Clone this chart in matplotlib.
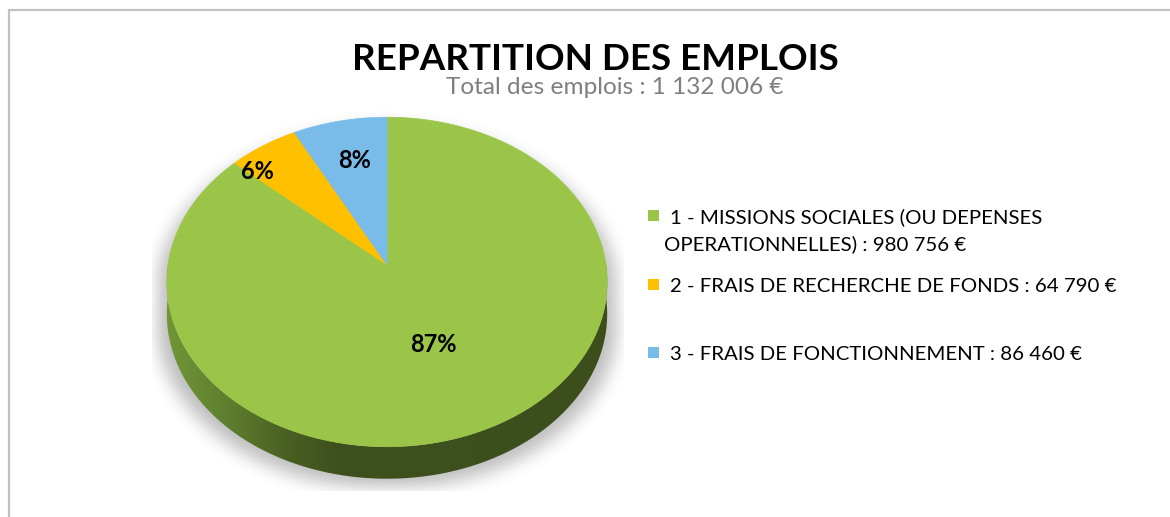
import numpy as np
import matplotlib
matplotlib.use("Agg")
import matplotlib.pyplot as plt
from matplotlib.patches import Polygon
from matplotlib.path import Path

# données
categories = ["1 - MISSIONS SOCIALES (OU DEPENSES OPERATIONNELLES)",
              "2 - FRAIS DE RECHERCHE DE FONDS",
              "3 - FRAIS DE FONCTIONNEMENT"]
valeurs = [980756, 64790, 86460]
couleurs = ["#9bc549", "#ffc000", "#79bbe9"]
titre = "REPARTITION DES EMPLOIS"
total = sum(valeurs)
sous_titre = "Total des emplois : " + f"{total:,}".replace(",", " ") + " €"

FONT = ["Lato", "DejaVu Sans"]

# géométrie du camembert 3D (pixels)
CX, CY = 387, 265
RX, RY = 219, 163
K = 0.103       # perspective
DEPTH = 32


def proj(theta, drop=0.0):
    u = np.cos(theta)
    v = -np.sin(theta)
    s = 1.0 / (1.0 - K * v)
    return CX + RX * u * s, CY + RY * v * s + drop


def fmt(v):
    return f"{v:,}".replace(",", " ") + " €"


fig = plt.figure(figsize=(11.7, 5.17), dpi=100)
ax = fig.add_axes([0, 0, 1, 1])
ax.set_xlim(0, 1170)
ax.set_ylim(517, 0)
ax.axis("off")

# cadre
ax.plot([8, 1170], [9.5, 9.5], color="#c0c0c0", lw=1.6, solid_capstyle="butt")
ax.plot([8.5, 8.5], [9, 517], color="#c0c0c0", lw=1.6, solid_capstyle="butt")

# contour du solide (arc arrière en haut + arc avant en bas)
t_back = np.linspace(0, np.pi, 200)
t_front = np.linspace(np.pi, 2 * np.pi, 200)
bx, by = proj(t_back)
fx, fy = proj(t_front, DEPTH)
outline = np.column_stack([np.r_[bx, fx], np.r_[by, fy]])

# ombre floue
x0, x1, y0, y1 = 152, 624, 105, 491
gx, gy = np.meshgrid(np.arange(x0, x1) + 0.5, np.arange(y0, y1) + 0.5)
sh = outline.copy()
sh[:, 0] = CX + (sh[:, 0] - CX) * 1.045
sh[:, 1] = sh[:, 1] + 10
mask = Path(sh).contains_points(np.column_stack([gx.ravel(), gy.ravel()]))
mask = mask.reshape(gx.shape).astype(float)
k = np.ones(17) / 17.0
for _ in range(3):
    mask = np.apply_along_axis(lambda m: np.convolve(m, k, mode="same"), 0, mask)
    mask = np.apply_along_axis(lambda m: np.convolve(m, k, mode="same"), 1, mask)
img = np.zeros(gx.shape + (4,))
img[..., 3] = 0.26 * mask
ax.imshow(img, extent=(x0, x1, y1, y0), interpolation="bilinear", zorder=1)

# paroi latérale (dégradé)
tx, ty = proj(t_front)
wall = np.column_stack([np.r_[tx, fx[::-1]], np.r_[ty, fy[::-1]]])
wall_patch = Polygon(wall, closed=True, facecolor="none", edgecolor="none")
ax.add_patch(wall_patch)
wx0, wx1 = int(tx.min()) - 2, int(tx.max()) + 2
wy0, wy1 = int(CY) - 5, int(fy.max()) + 2
xs = np.arange(wx0, wx1) + 0.5
stops_x = [168, 230, 290, 340, 610]
stops_c = np.array([[112, 150, 56], [94, 126, 45], [72, 94, 34],
                    [62, 80, 29], [60, 78, 28]]) / 255.0
grad = np.stack([np.interp(xs, stops_x, stops_c[:, c]) for c in range(3)], axis=-1)
grad = np.repeat(grad[None, :, :], wy1 - wy0, axis=0)
im = ax.imshow(grad, extent=(wx0, wx1, wy1, wy0), interpolation="bilinear", zorder=2)
im.set_clip_path(wall_patch)

# face supérieure
fracs = np.array(valeurs) / total
cum = np.r_[0, np.cumsum(fracs)]
for i, c in enumerate(couleurs):
    a0 = np.pi / 2 - 2 * np.pi * cum[i]
    a1 = np.pi / 2 - 2 * np.pi * cum[i + 1]
    t = np.linspace(a0, a1, 300)
    px, py = proj(t)
    poly = np.column_stack([np.r_[CX, px], np.r_[CY, py]])
    ax.add_patch(Polygon(poly, closed=True, facecolor=c, edgecolor=c, lw=0.5, zorder=3))

# étiquettes de pourcentage
pct_pos = [(433, 352), (257, 179), (355, 168)]
for f, (x, y) in zip(fracs, pct_pos):
    ax.text(x, y, f"{round(f * 100)}%", ha="center", va="baseline",
            fontsize=17, fontweight="bold", family=FONT, color="black", zorder=4)

renderer = fig.canvas.get_renderer()


def fit(t, width):
    w = t.get_window_extent(renderer).width
    t.set_fontsize(t.get_fontsize() * width / w)


# titres
t1 = ax.text(595, 70, titre, ha="center", va="baseline", fontsize=28,
             fontweight="bold", family=FONT, color="black")
fit(t1, 486)
t2 = ax.text(615, 93.5, sous_titre, ha="center", va="baseline", fontsize=15,
             family=FONT, color="#7f7f7f")
fit(t2, 338)

# légende
leg_y = [215.5, 284.5, 352.5]
lignes = [(categories[0].replace(" OPERATIONNELLES)", ""), 670, 223),
          ("OPERATIONNELLES) : " + fmt(valeurs[0]), 664, 250),
          (categories[1] + " : " + fmt(valeurs[1]), 670, 292),
          (categories[2] + " : " + fmt(valeurs[2]), 670, 360)]
for c, y in zip(couleurs, leg_y):
    ax.add_patch(Polygon([[648, y - 5.5], [659, y - 5.5], [659, y + 5.5], [648, y + 5.5]],
                         closed=True, facecolor=c, edgecolor="none"))
txts = []
for s, x, y in lignes:
    txts.append(ax.text(x, y, s, ha="left", va="baseline", fontsize=14,
                        family=FONT, color="black"))
fit(txts[2], 445)
for t in txts:
    t.set_fontsize(txts[2].get_fontsize())

fig.savefig("out.png", dpi=100)
